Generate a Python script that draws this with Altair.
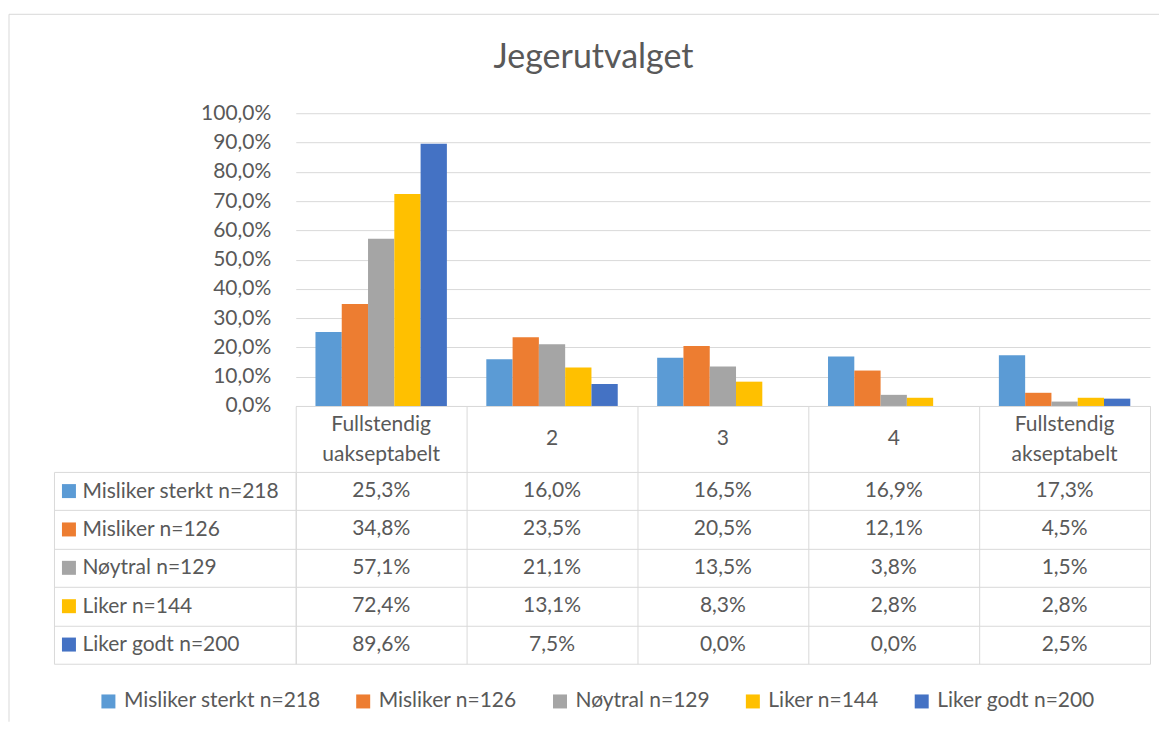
import altair as alt
import pandas as pd

# ---------------- data ----------------
categories = ["Fullstendig uakseptabelt", "2", "3", "4", "Fullstendig akseptabelt"]
series = ["Misliker sterkt n=218", "Misliker n=126", "Nøytral n=129", "Liker n=144", "Liker godt n=200"]
misliker_sterkt = [25.3, 16.0, 16.5, 16.9, 17.3]
misliker = [34.8, 23.5, 20.5, 12.1, 4.5]
noytral = [57.1, 21.1, 13.5, 3.8, 1.5]
liker = [72.4, 13.1, 8.3, 2.8, 2.8]
liker_godt = [89.6, 7.5, 0.0, 0.0, 2.5]
y_ticks = [0, 10, 20, 30, 40, 50, 60, 70, 80, 90, 100]
title_text = "Jegerutvalget"

# ---------------- style ----------------
colors = ["#5B9BD5", "#ED7D31", "#A5A5A5", "#FFC000", "#4472C4"]
FONT = "Lato"
TEXT = "#595959"
GRID = "#D9D9D9"
FS = 21
W = 855
H_BARS = 293
H_TABLE = 192
HEADER = 66
LABEL_COL = 242

rows = []
for s, vals in zip(series, [misliker_sterkt, misliker, noytral, liker, liker_godt]):
    for c, v in zip(categories, vals):
        rows.append({"series": s, "category": c, "value": v})
df = pd.DataFrame(rows)
hdr_df = pd.DataFrame({"category": categories})

pct_expr = "replace(format(datum.value, '.1f'), '.', ',') + '%'"

legend_def = alt.Legend(
    orient="none", legendX=-198, legendY=578, direction="horizontal",
    title=None, symbolType="square", symbolSize=196, symbolStrokeWidth=0,
    labelFontSize=FS, labelColor=TEXT, labelFont=FONT, columnPadding=32,
    labelOffset=5, padding=0, labelLimit=300,
)
color_scale = alt.Scale(domain=series, range=colors)

# ---------------- top: bars ----------------
one = pd.DataFrame({"t": [title_text]})
frame_top = alt.Chart(one).mark_rule(color=GRID, strokeWidth=1).encode(
    x=alt.value(-287), x2=alt.value(864), y=alt.value(-99))
frame_left = alt.Chart(one).mark_rule(color=GRID, strokeWidth=1).encode(
    x=alt.value(-287), y=alt.value(-99), y2=alt.value(609))
title_mark = alt.Chart(one).mark_text(font=FONT, fontSize=34, color=TEXT, baseline="middle").encode(
    text="t:N", x=alt.value(298), y=alt.value(-55))

bars = alt.Chart(df).mark_bar().encode(
    x=alt.X("category:N", sort=categories,
            scale=alt.Scale(paddingInner=0, paddingOuter=0),
            axis=alt.Axis(title=None, orient="bottom", domainColor=GRID, tickColor=GRID,
                          tickBand="extent", tickSize=HEADER, labels=False, grid=False)),
    xOffset=alt.XOffset("series:N", sort=series,
                        scale=alt.Scale(paddingOuter=0.75, paddingInner=0)),
    y=alt.Y("value:Q", scale=alt.Scale(domain=[0, 100]),
            axis=alt.Axis(title=None, values=y_ticks, labelExpr=pct_expr, grid=True,
                          gridColor=GRID, domain=False, ticks=False, labelPadding=25,
                          labelFontSize=FS, labelColor=TEXT, labelFont=FONT)),
    color=alt.Color("series:N", sort=series, scale=color_scale, legend=legend_def),
)

top = alt.layer(frame_top, frame_left, title_mark, bars).properties(width=W, height=H_BARS)

# ---------------- bottom: data table ----------------
table_x_axis = alt.Axis(orient="top", title=None, labels=False, ticks=False, domain=False,
                        grid=True, gridColor=GRID, tickBand="extent")
table_x = alt.X("category:N", sort=categories,
                scale=alt.Scale(paddingInner=0, paddingOuter=0), axis=table_x_axis)

table_text = alt.Chart(df).transform_calculate(
    label=pct_expr
).mark_text(font=FONT, fontSize=FS, color=TEXT, baseline="middle").encode(
    x=table_x,
    y=alt.Y("series:N", sort=series,
            scale=alt.Scale(paddingInner=0, paddingOuter=0),
            axis=alt.Axis(orient="left", title=None, tickBand="extent", tickSize=LABEL_COL,
                          tickColor=GRID, domainColor=GRID, grid=True, gridColor=GRID,
                          labelAlign="left", labelPadding=-28, labelBaseline="middle",
                          labelFontSize=FS, labelColor=TEXT, labelFont=FONT, labelLimit=300)),
    text="label:N",
)

# category header cells (above the table, below the bar axis line)
hdr_two = alt.Chart(hdr_df).transform_filter(
    "indexof(datum.category, ' ') >= 0"
).mark_text(font=FONT, fontSize=FS, color=TEXT, baseline="alphabetic",
            lineBreak=" ", lineHeight=30).encode(
    x=table_x, y=alt.value(-41), text="category:N")
hdr_one = alt.Chart(hdr_df).transform_filter(
    "indexof(datum.category, ' ') < 0"
).mark_text(font=FONT, fontSize=FS, color=TEXT, baseline="middle").encode(
    x=table_x, y=alt.value(-33), text="category:N")

squares = alt.Chart(pd.DataFrame({"series": series})).mark_square(size=196, opacity=1).encode(
    x=alt.value(-227),
    y=alt.Y("series:N", sort=series,
            axis=alt.Axis(orient="left", offset=LABEL_COL, title=None, labels=False,
                          ticks=False, grid=False, domain=True, domainColor=GRID)),
    color=alt.Color("series:N", sort=series, scale=color_scale, legend=legend_def),
)

table = alt.layer(table_text, hdr_two, hdr_one, squares).resolve_axis(y="independent").properties(
    width=W, height=H_TABLE)

chart = alt.vconcat(top, table, spacing=HEADER, bounds="flush").properties(
    padding={"left": 0, "top": 5, "right": 0, "bottom": 0}
).configure(font=FONT).configure_view(stroke="transparent")

chart.save("out.html", embed_options={"renderer": "svg", "actions": False})
